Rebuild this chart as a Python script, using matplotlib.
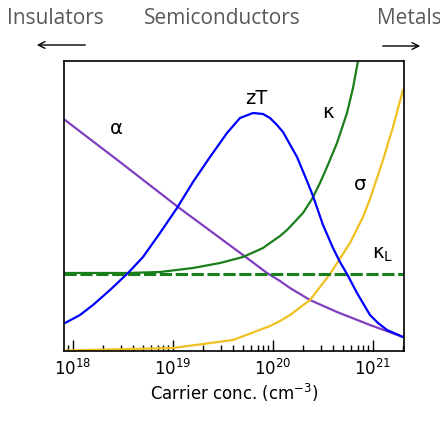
import matplotlib
matplotlib.use("Agg")
import matplotlib.pyplot as plt
import numpy as np

# carrier concentration given as log10(n / cm^-3); quantities in arbitrary units
alpha_logn = [17.92, 18.47, 19.05, 19.70, 19.94, 20.07, 20.17, 20.37, 20.64, 20.97, 21.30]
alpha_val = [231, 189, 144, 96, 78, 70, 63, 51, 39, 26, 14]

zt_logn = [17.92, 18.07, 18.20, 18.37, 18.55, 18.70, 18.87, 19.04, 19.20, 19.37,
           19.54, 19.67, 19.80, 19.90, 19.97, 20.04, 20.10, 20.24, 20.34, 20.40,
           20.50, 20.60, 20.67, 20.74, 20.84, 20.97, 21.05, 21.14, 21.30]
zt_val = [28, 36, 46, 61, 78, 94, 118, 143, 169, 194,
          218, 233, 238, 237, 233, 226, 219, 194, 170, 155,
          126, 103, 89, 77, 58, 36, 28, 21, 14]

kappa_logn = [17.92, 18.54, 18.87, 19.20, 19.47, 19.70, 19.90, 19.97, 20.07, 20.14,
              20.30, 20.39, 20.47, 20.54, 20.64, 20.74, 20.80, 20.85]
kappa_val = [78, 78, 79, 83, 88, 94, 103, 108, 115, 121,
             138, 152, 168, 184, 208, 238, 263, 290]

sigma_logn = [17.92, 19.00, 19.60, 19.97, 20.07, 20.17, 20.37, 20.57, 20.77, 20.90,
              20.97, 21.10, 21.20, 21.30]
sigma_val = [0.5, 3, 11, 25, 30, 36, 51, 77, 108, 134,
             152, 191, 224, 261]

kappa_l = 77

labels = {"α": (18.43, 222), "zT": (19.83, 253), "κ": (20.55, 238),
          "σ": (20.87, 167), "κ$_\\mathrm{L}$": (21.10, 96)}

fig = plt.figure(figsize=(4.4, 4.23), dpi=100)
ax = fig.add_axes([64/440, 1-351/423, 340/440, 290/423])

to_n = lambda l: 10**np.array(l)

ax.plot(to_n(alpha_logn), alpha_val, color="#7f3fbf", lw=1.6)
ax.plot(to_n(sigma_logn), sigma_val, color="#f0c020", lw=1.6)
ax.plot(to_n(kappa_logn), kappa_val, color="#1a7f1a", lw=1.6)
ax.axhline(kappa_l, color="#1a7f1a", lw=2.2, ls=(0, (4, 1.2)))
ax.plot(to_n(zt_logn), zt_val, color="#0000ff", lw=1.6)

ax.set_xscale("log")
ax.set_xlim(10**17.91, 10**21.31)
ax.set_ylim(0, 290)
ax.set_yticks([])
ax.tick_params(axis="x", which="major", direction="in", length=8, width=1, labelsize=12, pad=6)
ax.tick_params(axis="x", which="minor", direction="in", length=4, width=1)
for s in ax.spines.values():
    s.set_linewidth(1.2)
ax.set_xlabel("Carrier conc. (cm$^{-3}$)", fontsize=12, labelpad=2)

for txt, (lx, y) in labels.items():
    ax.text(10**lx, y, txt, fontsize=14, ha="center", va="center")

grey = "#595959"
fig.text(55/440, 1-18/423, "Insulators", fontsize=15, color=grey, ha="center", va="center", family="Open Sans")
fig.text(222/440, 1-18/423, "Semiconductors", fontsize=15, color=grey, ha="center", va="center", family="Open Sans")
fig.text(409/440, 1-18/423, "Metals", fontsize=15, color=grey, ha="center", va="center", family="Open Sans")
fig.add_artist(matplotlib.patches.FancyArrowPatch((88/440, 1-45/423), (34/440, 1-45/423),
               transform=fig.transFigure, arrowstyle="->", mutation_scale=12, lw=1, color="black"))
fig.add_artist(matplotlib.patches.FancyArrowPatch((380/440, 1-46/423), (423/440, 1-46/423),
               transform=fig.transFigure, arrowstyle="->", mutation_scale=12, lw=1, color="black"))

fig.savefig("out.png", dpi=100)
